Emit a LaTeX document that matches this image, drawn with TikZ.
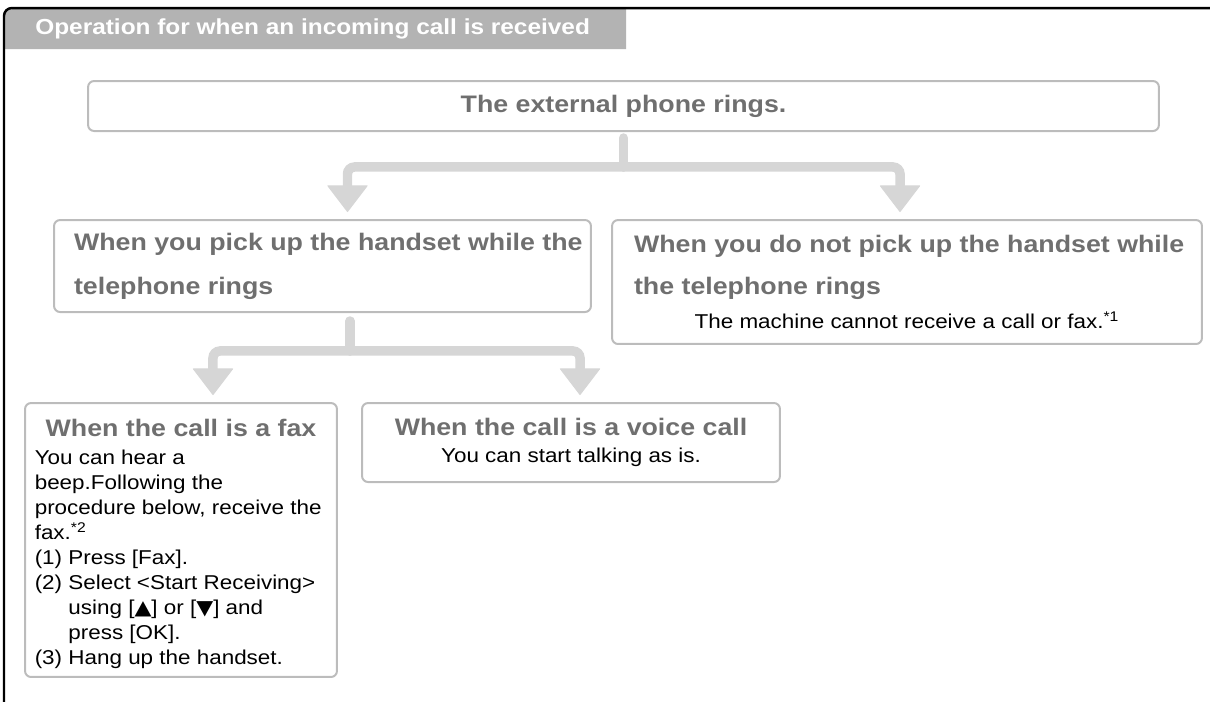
\documentclass[tikz,border=0pt]{standalone}
\usepackage{fontspec}
\setmainfont{Liberation Sans}[FakeStretch=1.12]
\newfontfamily\symfont{DejaVu Sans}[FakeStretch=1.1]
\usetikzlibrary{arrows.meta}
\definecolor{FlowTitle}{HTML}{6F6F6F}
\definecolor{FlowEdge}{HTML}{BCBCBC}
\definecolor{FlowArrow}{HTML}{D6D6D6}
\definecolor{FlowBar}{HTML}{B3B3B3}
\newcommand{\headf}{\fontsize{12.4}{14}\selectfont\bfseries}
\newcommand{\titlef}{\fontsize{13.6}{25}\selectfont\bfseries}
\newcommand{\bodyf}{\fontsize{11.4}{14.4}\selectfont}

\tikzset{
  flowbox/.style={draw=FlowEdge, line width=0.04cm, rounded corners=0.12cm,
    inner sep=0pt, align=center, font=\bodyf},
  flowline/.style={draw=FlowArrow, line width=0.19cm, line cap=round},
  flowarrow/.style={flowline, rounded corners=0.14cm,
    -{Triangle[width=0.82cm,length=0.54cm,line width=0.6pt,round]}}
}

\begin{document}
\begin{tikzpicture}[x=0.02cm,y=0.02cm]
\path[use as bounding box] (0,0) rectangle (1210,-701);
% title bar and frame
\fill[FlowBar] (5,-49) [rounded corners=0.16cm] -- (5,-9) [sharp corners] -- (626,-9) -- (626,-49) -- cycle;
\draw[line width=0.05cm, rounded corners=0.16cm] (4,-710) -- (4,-8) -- (1220,-8);
\node[anchor=west, inner sep=0pt, text=white, font=\headf] (head) at (35,-29) {Operation for when an incoming call is received};

% boxes
\node[flowbox, font=\titlef, text=FlowTitle, minimum width=21.42cm, minimum height=1cm] (ring) at (623.5,-106) {The external phone rings.};
\node[flowbox, font=\titlef, text=FlowTitle, minimum width=10.74cm, minimum height=1.84cm] (pick) at (322.5,-266)
  {\makebox[9.94cm][l]{When you pick up the handset while the}\\ \makebox[9.94cm][l]{telephone rings}};
\node[flowbox, minimum width=11.8cm, minimum height=2.48cm] (nopick) at (907,-282)
  {\makebox[10.92cm][l]{\color{FlowTitle}\titlef When you do not pick up the handset while}\\[9.3pt]
   \makebox[10.92cm][l]{\color{FlowTitle}\titlef the telephone rings}\\[4.8pt]
   The machine cannot receive a call or fax.\textsuperscript{*1}};
\node[flowbox, minimum width=6.24cm, minimum height=5.48cm] (fax) at (181,-540)
  {\rule{0pt}{14pt}{\color{FlowTitle}\titlef When the call is a fax}\\[1.6pt]
   \parbox[t]{5.85cm}{\fontsize{11.4}{14.2}\selectfont\raggedright You can hear a\\ beep.Following the\\ procedure below, receive the\\
   fax.\textsuperscript{*2}\\ (1) Press [Fax].\\ (2) Select <Start Receiving>\\
   \phantom{(2)~}using [{\symfont▲}] or [{\symfont▼}] and\\ \phantom{(2)~}press [OK].\\ (3) Hang up the handset.}};
\node[flowbox, minimum width=8.36cm, minimum height=1.58cm] (voice) at (571,-442.5)
  {{\color{FlowTitle}\titlef When the call is a voice call}\\[1pt] You can start talking as is.};

% connectors
\coordinate (fork1) at ([yshift=-0.7cm]ring.south);
\draw[flowline] ([yshift=-0.12cm]ring.south) -- (fork1);
\draw[flowarrow] (fork1) -| ([xshift=0.5cm,yshift=0.14cm]pick.north);
\draw[flowarrow] (fork1) -| ([xshift=-0.14cm,yshift=0.14cm]nopick.north);
\coordinate (fork2) at ([xshift=0.55cm,yshift=-0.76cm]pick.south);
\draw[flowline] ([xshift=0.55cm,yshift=-0.16cm]pick.south) -- (fork2);
\draw[flowarrow] (fork2) -| ([xshift=0.64cm,yshift=0.14cm]fax.north);
\draw[flowarrow] (fork2) -| ([xshift=0.18cm,yshift=0.14cm]voice.north);
\end{tikzpicture}
\end{document}
